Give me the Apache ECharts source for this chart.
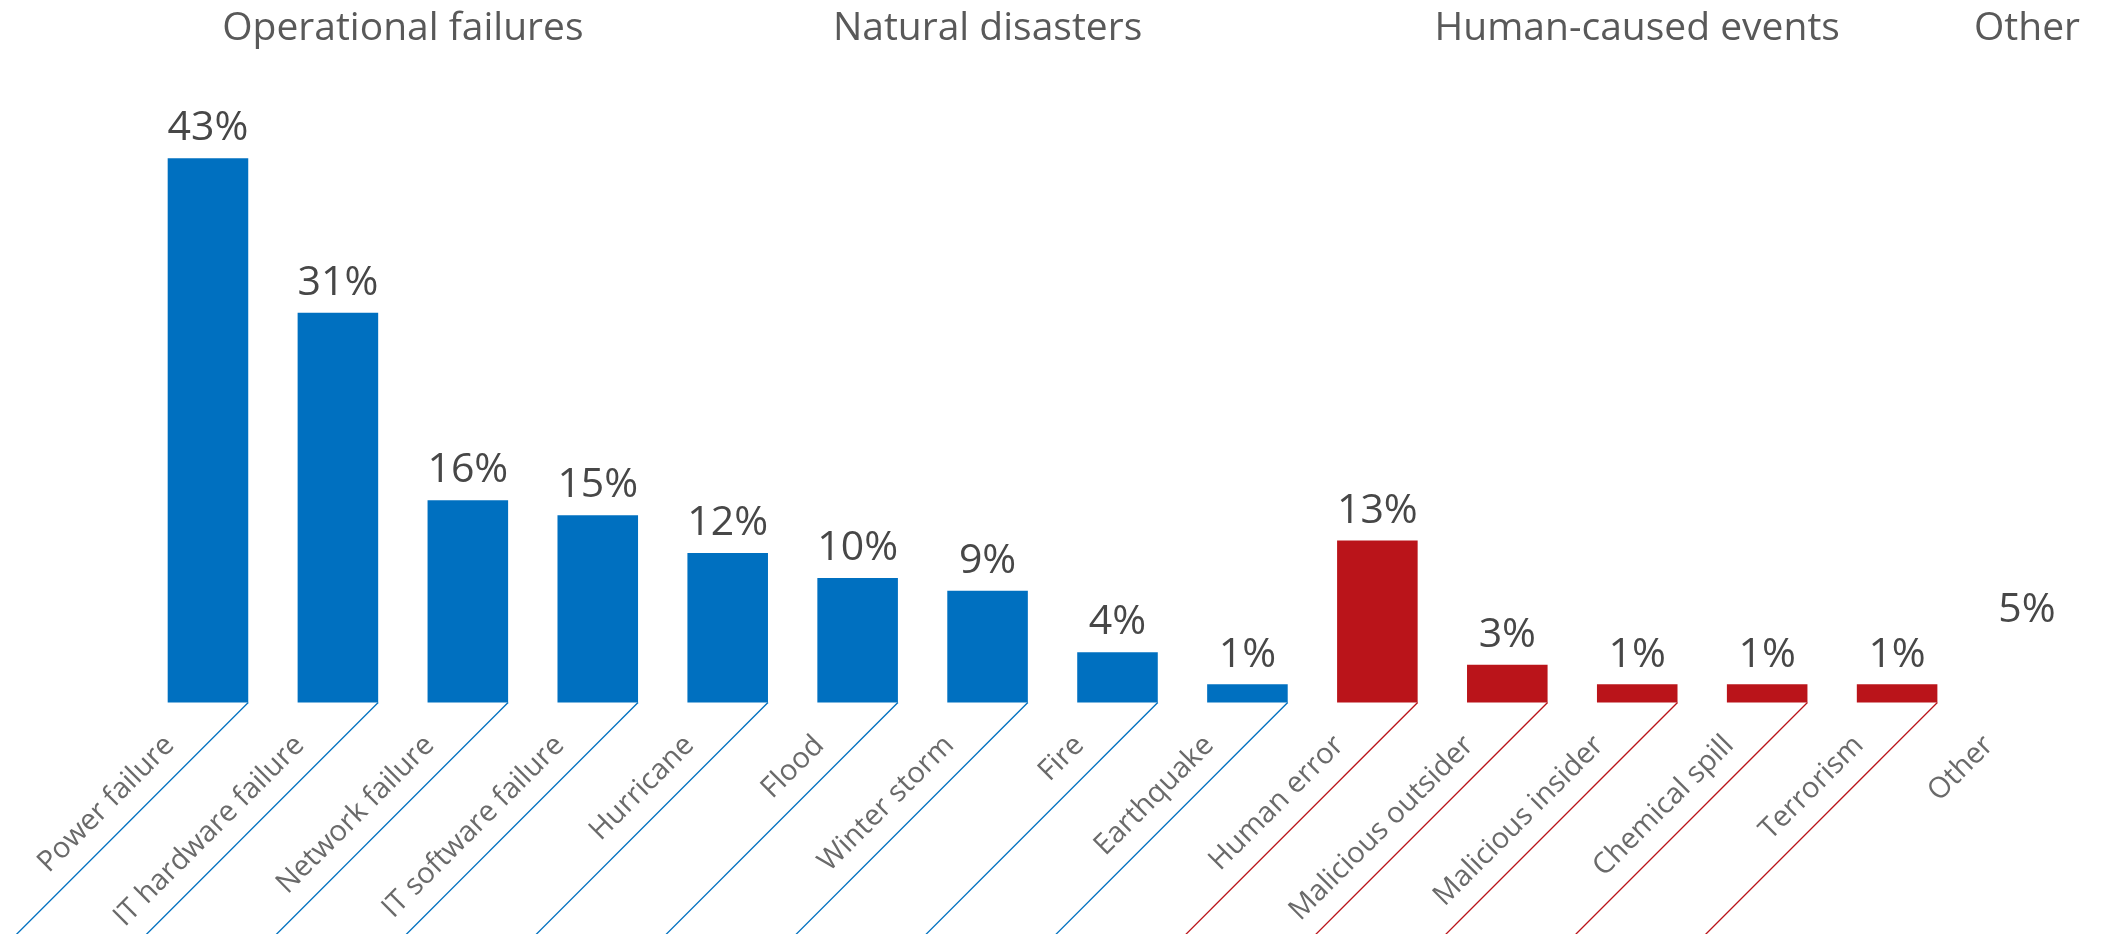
<!DOCTYPE html>
<html>
<head>
<meta charset="utf-8">
<script src="https://cdn.jsdelivr.net/npm/echarts@6/dist/echarts.min.js"></script>
<style>
  html, body { margin: 0; padding: 0; background: #fff; }
  #main { width: 2102px; height: 934px; }
</style>
</head>
<body>
<div id="main"></div>
<script>
// categories, in the order of the picture
var categories = ['Power failure', 'IT hardware failure', 'Network failure', 'IT software failure',
    'Hurricane', 'Flood', 'Winter storm', 'Fire', 'Earthquake',
    'Human error', 'Malicious outsider', 'Malicious insider', 'Chemical spill', 'Terrorism',
    'Other'];
// share of respondents (%); labels show them rounded
var values = [43.3, 31, 16.1, 14.9, 11.9, 9.9, 8.9, 4, 1.45, 12.9, 3, 1.45, 1.45, 1.45, 5];
// groups on top: name and how many categories each one covers
var groupNames = ['Operational failures', 'Natural disasters', 'Human-caused events', 'Other'];
var groupSizes = [4, 5, 5, 1];
var groupColors = ['#0070C0', '#0070C0', '#BA141A', null];

// which group each category belongs to
var groupIndex = [];
groupSizes.forEach(function (n, g) {
    for (var k = 0; k < n; k++) groupIndex.push(g);
});

var chart = echarts.init(document.getElementById('main'));

var barData = values.map(function (v, i) {
    var c = groupColors[groupIndex[i]];
    return {
        value: v,
        itemStyle: {color: c || 'rgba(0,0,0,0)'}
    };
});

// slanted separators, only for categories that have a coloured group
var lineData = [];
categories.forEach(function (c, i) {
    if (groupColors[groupIndex[i]]) lineData.push([i, 0, groupIndex[i]]);
});

var option = {
    backgroundColor: '#fff',
    animation: false,
    grid: {left: 143, right: 10, top: 74, bottom: 230},
    xAxis: {
        type: 'category',
        data: categories,
        axisLine: {show: false},
        axisTick: {show: false},
        axisLabel: {
            interval: 0,
            rotate: 45,
            margin: 0,
            padding: [0, 54, 0, 0],
            color: '#6a6a6a',
            fontFamily: 'Open Sans',
            fontSize: 29
        }
    },
    yAxis: {
        type: 'value',
        min: 0,
        max: 50,
        show: false,
        splitLine: {show: false}
    },
    series: [{
        type: 'bar',
        data: barData,
        barWidth: '62%',
        label: {
            show: true,
            position: 'top',
            distance: 9,
            formatter: function (p) {
                return Math.round(p.value) + '%';
            },
            color: '#474747',
            fontFamily: 'Open Sans',
            fontSize: 41
        }
    }, {
        type: 'custom',
        data: lineData,
        silent: true,
        renderItem: function (params, api) {
            var p = api.coord([api.value(0), 0]);
            var band = api.size([1, 0])[0];
            var x0 = p[0] + band * 0.31;
            var len = 260;
            return {
                type: 'line',
                shape: {x1: x0, y1: p[1], x2: x0 - len, y2: p[1] + len},
                style: {stroke: groupColors[api.value(2)], lineWidth: 1.3}
            };
        }
    }]
};
chart.setOption(option);

// group titles centred over their categories
var titles = [];
var start = 0;
groupNames.forEach(function (name, g) {
    var a = chart.convertToPixel({xAxisIndex: 0}, start);
    var b = chart.convertToPixel({xAxisIndex: 0}, start + groupSizes[g] - 1);
    titles.push({
        type: 'text',
        x: (a + b) / 2,
        y: 29,
        style: {
            text: name,
            align: 'center',
            verticalAlign: 'middle',
            fill: '#595959',
            font: '39px "Open Sans"'
        }
    });
    start += groupSizes[g];
});
chart.setOption({graphic: titles});
</script>
</body>
</html>
